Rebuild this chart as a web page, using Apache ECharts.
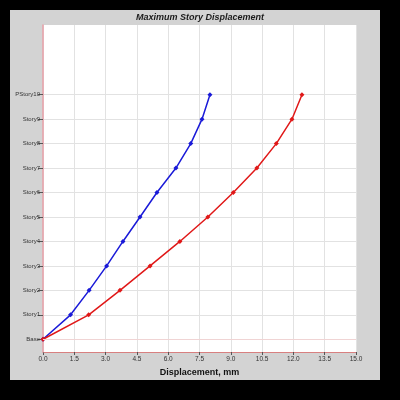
<!DOCTYPE html>
<html><head><meta charset="utf-8">
<script src="https://cdn.jsdelivr.net/npm/echarts@6/dist/echarts.min.js"></script>
<style>html,body{margin:0;padding:0;background:#000;}#c{width:400px;height:400px;}</style>
</head><body><div id="c"></div>
<script>
var stories = ['Base','Story1','Story2','Story3','Story4','Story5','Story6','Story7','Story8','Story9','PStory10'];
var blueX = [0, 1.32, 2.21, 3.05, 3.83, 4.65, 5.46, 6.37, 7.08, 7.62, 8.0];
var redX  = [0, 2.19, 3.69, 5.13, 6.56, 7.9, 9.12, 10.25, 11.18, 11.93, 12.41];
var xTicks = [0, 1.5, 3.0, 4.5, 6.0, 7.5, 9.0, 10.5, 12.0, 13.5, 15.0];
var levels = stories.map(function(s, i){ return i; });

function pairs(xs){ return xs.map(function(x, i){ return [x, levels[i]]; }); }

var chart = echarts.init(document.getElementById('c'), null, {renderer:'canvas'});
chart.setOption({
  backgroundColor: '#000',
  animation: false,
  graphic: [{type:'rect', shape:{x:10, y:10, width:370, height:370}, style:{fill:'#d3d3d3'}, z:-10}],
  title: {text:'Maximum Story Displacement', left:'center', top:8,
    textStyle:{fontFamily:'Liberation Sans', fontSize:9, fontWeight:'bold', fontStyle:'italic', color:'#1a1a1a'}},
  grid: {left:43, right:44, top:25, bottom:48, show:true, backgroundColor:'#fff', borderWidth:0},
  xAxis: {type:'value', min:0, max:15, interval:1.5, z:0,
    name:'Displacement, mm', nameLocation:'middle', nameGap:15,
    nameTextStyle:{fontFamily:'Liberation Sans', fontSize:9, fontWeight:'bold', color:'#111'},
    axisLine:{show:true, onZero:false, lineStyle:{color:'#d88080', width:1}},
    axisTick:{show:true, length:3, lineStyle:{color:'#555'}},
    axisLabel:{fontFamily:'Liberation Sans', fontSize:6.5, color:'#333', margin:4,
      formatter:function(v){ return (+v).toFixed(1); }},
    splitLine:{show:true, lineStyle:{color:'#e2e2e2', width:1}}
  },
  yAxis: {type:'value', min:-0.52, max:12.85, z:1,
    axisLine:{show:true, onZero:false, lineStyle:{color:'#e8a0a8', width:1.5}},
    axisTick:{show:true, length:5, customValues:levels, lineStyle:{color:'#555'}},
    axisLabel:{fontFamily:'Liberation Sans', fontSize:6, color:'#333', margin:3, customValues:levels,
      formatter:function(v){ return stories[Math.round(v)] || ''; }},
    splitLine:{show:true, lineStyle:{color:'#e2e2e2', width:1}}
  },
  series: [
    {type:'line', data:pairs(blueX), symbol:'diamond', symbolSize:5, lineStyle:{color:'#1a1ad8', width:1.5},
     itemStyle:{color:'#1a1ad8'}, z:3,
     markLine:{silent:true, symbol:'none', label:{show:false}, lineStyle:{color:'#f0d4d4', type:'solid', width:1},
       data:[{yAxis:levels[0]}]}},
    {type:'line', data:pairs(redX), symbol:'diamond', symbolSize:5, lineStyle:{color:'#e01818', width:1.5},
     itemStyle:{color:'#e01818'}, z:4}
  ]
});
</script></body></html>
